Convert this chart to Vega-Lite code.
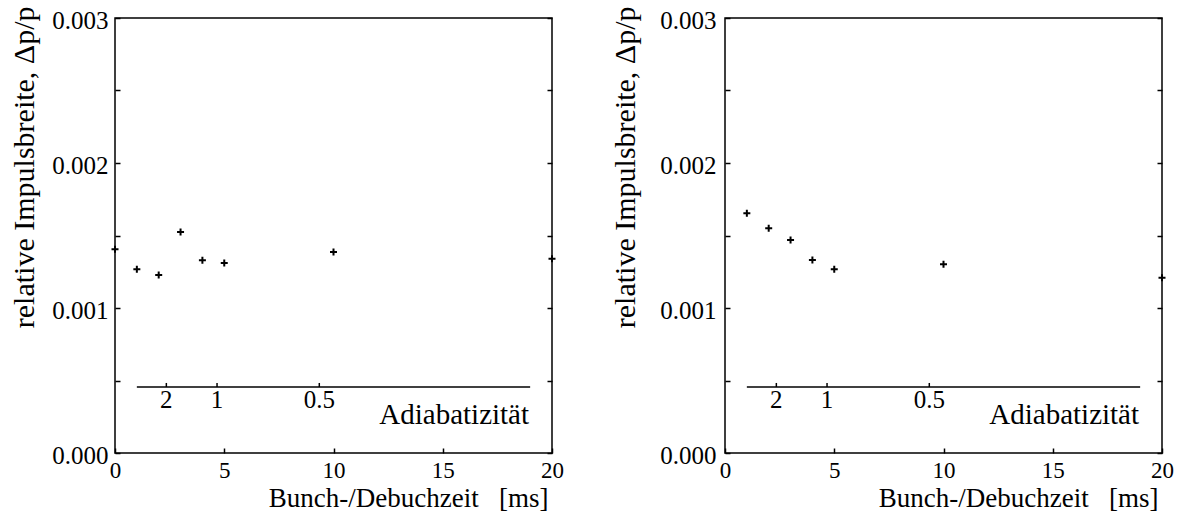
{
  "$schema": "https://vega.github.io/schema/vega-lite/v6.json",
  "background": "white",
  "padding": {"left": 8, "top": 5, "right": 0, "bottom": 0},
  "bounds": "flush",
  "spacing": 173,
  "config": {
    "font": "Liberation Serif",
    "view": {"stroke": "black", "strokeWidth": 1.5},
    "axis": {
      "labelFont": "Liberation Serif",
      "titleFont": "Liberation Serif",
      "labelColor": "black",
      "titleColor": "black",
      "tickColor": "black",
      "labelFontSize": 25,
      "titleFontSize": 28,
      "titleFontWeight": "normal",
      "labelFlush": false,
      "labelOverlap": false,
      "domain": false,
      "grid": false,
      "tickSize": -5,
      "tickWidth": 1.5
    }
  },
  "datasets": {
    "left": [
      {"t": 0, "dp": 0.001405},
      {"t": 1, "dp": 0.001267},
      {"t": 2, "dp": 0.001228},
      {"t": 3, "dp": 0.001524},
      {"t": 4, "dp": 0.001329},
      {"t": 5, "dp": 0.00131},
      {"t": 10, "dp": 0.001386},
      {"t": 20, "dp": 0.00134}
    ],
    "right": [
      {"t": 1, "dp": 0.001653},
      {"t": 2, "dp": 0.00155},
      {"t": 3, "dp": 0.001469},
      {"t": 4, "dp": 0.001331},
      {"t": 5, "dp": 0.001267},
      {"t": 10, "dp": 0.001301},
      {"t": 20, "dp": 0.001209}
    ],
    "adiaLine": [{"t": 1, "t2": 19, "dp": 0.000455}],
    "adiaTicks": [
      {"t": 2.35, "dp": 0.000455, "dp2": 0.000483, "label": "2", "ly": 0.00031},
      {"t": 4.67, "dp": 0.000455, "dp2": 0.000483, "label": "1", "ly": 0.00031},
      {"t": 9.35, "dp": 0.000455, "dp2": 0.000483, "label": "0.5", "ly": 0.00031}
    ],
    "adiaTitle": [{"t": 18.95, "dp": 0.000202, "label": "Adiabatizität"}]
  },
  "hconcat": [
    {
      "width": 437,
      "height": 435,
      "resolve": {"axis": {"y": "independent"}},
      "layer": [
        {
          "data": {"name": "left"},
          "mark": {"type": "point", "shape": "M-1,0H1M0,-1V1", "filled": false, "stroke": "black", "strokeWidth": 2, "size": 49, "opacity": 1},
          "encoding": {
            "x": {"field": "t", "type": "quantitative", "scale": {"domain": [0, 20], "nice": false},
              "axis": {"values": [0, 5, 10, 15, 20], "labelFont": "Liberation Serif", "labelFontSize": 23, "labelPadding": 29, "labelBaseline": "alphabetic", "labelAngle": 0, "labelFlush": false,
                "title": "Bunch-/Debuchzeit\u00a0\u00a0\u00a0[ms]", "titleFont": "Liberation Serif", "titleFontSize": 27, "titleAnchor": "end", "titleAlign": "right", "titleBaseline": "alphabetic", "titleX": 433, "titleY": 53}},
            "y": {"field": "dp", "type": "quantitative", "scale": {"domain": [0, 0.003], "nice": false},
              "axis": {"values": [0, 0.0005, 0.001, 0.0015, 0.002, 0.0025, 0.003],
                "labelExpr": "round(datum.value*2000) % 2 == 0 ? format(datum.value, '.3f') : ''",
                "labelFont": "Liberation Serif", "labelFontSize": 25, "labelFlush": false,
                "labelPadding": 12, "labelBaseline": "alphabetic", "labelOffset": 10,
                "title": "relative Impulsbreite, Δp/p", "titleFont": "Liberation Serif", "titleFontSize": 30, "titleAnchor": "end", "titleAlign": "right", "titleBaseline": "alphabetic", "titleAngle": -90, "titleX": -82, "titleY": -12}}
          }
        },
        {
          "data": {"name": "left"},
          "mark": {"type": "point", "opacity": 0},
          "encoding": {
            "x": {"field": "t", "type": "quantitative", "scale": {"domain": [0, 20], "nice": false}},
            "y": {"field": "dp", "type": "quantitative", "scale": {"domain": [0, 0.003], "nice": false},
              "axis": {"orient": "right", "values": [0, 0.0005, 0.001, 0.0015, 0.002, 0.0025, 0.003], "labels": false, "title": null}}
          }
        },
        {
          "data": {"name": "adiaLine"},
          "mark": {"type": "rule", "color": "black", "strokeWidth": 1.5},
          "encoding": {
            "x": {"field": "t", "type": "quantitative", "scale": {"domain": [0, 20], "nice": false}},
            "x2": {"field": "t2"},
            "y": {"field": "dp", "type": "quantitative", "scale": {"domain": [0, 0.003], "nice": false}, "axis": null}
          }
        },
        {
          "data": {"name": "adiaTicks"},
          "mark": {"type": "rule", "color": "black", "strokeWidth": 1.5},
          "encoding": {
            "x": {"field": "t", "type": "quantitative", "scale": {"domain": [0, 20], "nice": false}},
            "y": {"field": "dp", "type": "quantitative", "scale": {"domain": [0, 0.003], "nice": false}, "axis": null},
            "y2": {"field": "dp2"}
          }
        },
        {
          "data": {"name": "adiaTicks"},
          "mark": {"type": "text", "fontSize": 25, "align": "center", "baseline": "alphabetic", "color": "black", "font": "Liberation Serif"},
          "encoding": {
            "x": {"field": "t", "type": "quantitative", "scale": {"domain": [0, 20], "nice": false}},
            "y": {"field": "ly", "type": "quantitative", "scale": {"domain": [0, 0.003], "nice": false}, "axis": null},
            "text": {"field": "label"}
          }
        },
        {
          "data": {"name": "adiaTitle"},
          "mark": {"type": "text", "fontSize": 29, "align": "right", "baseline": "alphabetic", "color": "black", "font": "Liberation Serif"},
          "encoding": {
            "x": {"field": "t", "type": "quantitative", "scale": {"domain": [0, 20], "nice": false}},
            "y": {"field": "dp", "type": "quantitative", "scale": {"domain": [0, 0.003], "nice": false}, "axis": null},
            "text": {"field": "label"}
          }
        }
      ]
    },
    {
      "width": 437,
      "height": 435,
      "resolve": {"axis": {"y": "independent"}},
      "layer": [
        {
          "data": {"name": "right"},
          "mark": {"type": "point", "shape": "M-1,0H1M0,-1V1", "filled": false, "stroke": "black", "strokeWidth": 2, "size": 49, "opacity": 1},
          "encoding": {
            "x": {"field": "t", "type": "quantitative", "scale": {"domain": [0, 20], "nice": false},
              "axis": {"values": [0, 5, 10, 15, 20], "labelFont": "Liberation Serif", "labelFontSize": 23, "labelPadding": 29, "labelBaseline": "alphabetic", "labelAngle": 0, "labelFlush": false,
                "title": "Bunch-/Debuchzeit\u00a0\u00a0\u00a0[ms]", "titleFont": "Liberation Serif", "titleFontSize": 27, "titleAnchor": "end", "titleAlign": "right", "titleBaseline": "alphabetic", "titleX": 433, "titleY": 53}},
            "y": {"field": "dp", "type": "quantitative", "scale": {"domain": [0, 0.003], "nice": false},
              "axis": {"values": [0, 0.0005, 0.001, 0.0015, 0.002, 0.0025, 0.003],
                "labelExpr": "round(datum.value*2000) % 2 == 0 ? format(datum.value, '.3f') : ''",
                "labelFont": "Liberation Serif", "labelFontSize": 25, "labelFlush": false,
                "labelPadding": 14, "labelBaseline": "alphabetic", "labelOffset": 10,
                "title": "relative Impulsbreite, Δp/p", "titleFont": "Liberation Serif", "titleFontSize": 30, "titleAnchor": "end", "titleAlign": "right", "titleBaseline": "alphabetic", "titleAngle": -90, "titleX": -91, "titleY": -12}}
          }
        },
        {
          "data": {"name": "right"},
          "mark": {"type": "point", "opacity": 0},
          "encoding": {
            "x": {"field": "t", "type": "quantitative", "scale": {"domain": [0, 20], "nice": false}},
            "y": {"field": "dp", "type": "quantitative", "scale": {"domain": [0, 0.003], "nice": false},
              "axis": {"orient": "right", "values": [0, 0.0005, 0.001, 0.0015, 0.002, 0.0025, 0.003], "labels": false, "title": null}}
          }
        },
        {
          "data": {"name": "adiaLine"},
          "mark": {"type": "rule", "color": "black", "strokeWidth": 1.5},
          "encoding": {
            "x": {"field": "t", "type": "quantitative", "scale": {"domain": [0, 20], "nice": false}},
            "x2": {"field": "t2"},
            "y": {"field": "dp", "type": "quantitative", "scale": {"domain": [0, 0.003], "nice": false}, "axis": null}
          }
        },
        {
          "data": {"name": "adiaTicks"},
          "mark": {"type": "rule", "color": "black", "strokeWidth": 1.5},
          "encoding": {
            "x": {"field": "t", "type": "quantitative", "scale": {"domain": [0, 20], "nice": false}},
            "y": {"field": "dp", "type": "quantitative", "scale": {"domain": [0, 0.003], "nice": false}, "axis": null},
            "y2": {"field": "dp2"}
          }
        },
        {
          "data": {"name": "adiaTicks"},
          "mark": {"type": "text", "fontSize": 25, "align": "center", "baseline": "alphabetic", "color": "black", "font": "Liberation Serif"},
          "encoding": {
            "x": {"field": "t", "type": "quantitative", "scale": {"domain": [0, 20], "nice": false}},
            "y": {"field": "ly", "type": "quantitative", "scale": {"domain": [0, 0.003], "nice": false}, "axis": null},
            "text": {"field": "label"}
          }
        },
        {
          "data": {"name": "adiaTitle"},
          "mark": {"type": "text", "fontSize": 29, "align": "right", "baseline": "alphabetic", "color": "black", "font": "Liberation Serif"},
          "encoding": {
            "x": {"field": "t", "type": "quantitative", "scale": {"domain": [0, 20], "nice": false}},
            "y": {"field": "dp", "type": "quantitative", "scale": {"domain": [0, 0.003], "nice": false}, "axis": null},
            "text": {"field": "label"}
          }
        }
      ]
    }
  ]
}
